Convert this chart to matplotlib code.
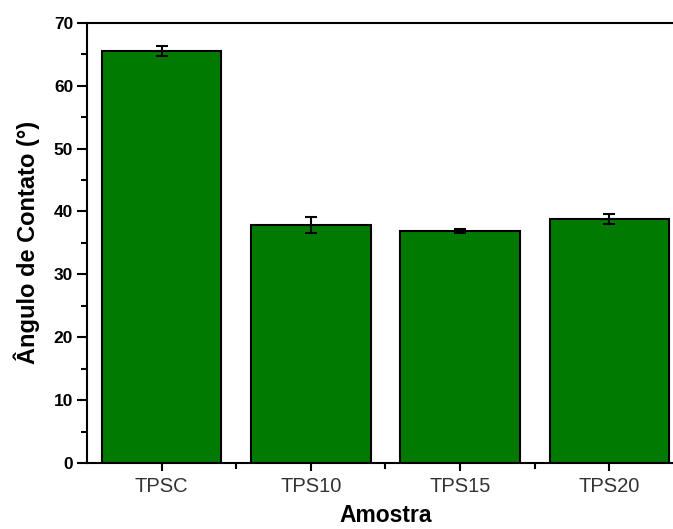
import numpy as np
import matplotlib
matplotlib.use("Agg")
from matplotlib import pyplot as plt
from matplotlib.ticker import MultipleLocator, FixedLocator

# Contact angle per sample
amostras = ["TPSC", "TPS10", "TPS15", "TPS20"]
angulo = [65.5, 37.9, 36.9, 38.8]
erro = [0.85, 1.3, 0.3, 0.85]

plt.rcParams["font.family"] = ["Liberation Sans", "DejaVu Sans"]

fig = plt.figure(figsize=(6.73, 5.29), dpi=100)
# axes run past the right edge, like the cropped original
ax = fig.add_axes([0.1293, 0.1248, 0.887, 0.832])

x = np.arange(len(amostras))
ax.bar(x, angulo, width=0.8, color="#007a00", edgecolor="black", linewidth=1.5,
       yerr=erro, capsize=4, error_kw=dict(elinewidth=1.5, capthick=1.5, ecolor="black"))

ax.set_xlim(-0.5, 3.5)
ax.set_ylim(0, 70)
ax.yaxis.set_major_locator(MultipleLocator(10))
ax.yaxis.set_minor_locator(MultipleLocator(5))
ax.set_xticks(x)
ax.set_xticklabels(amostras, fontsize=14.5, color="#333333")
ax.xaxis.set_minor_locator(FixedLocator(x[:-1] + 0.5))

for lab in ax.get_yticklabels():
    lab.set_fontweight("bold")
    lab.set_fontsize(12.5)

ax.tick_params(axis="y", which="major", direction="out", length=7, width=1.5, pad=3)
ax.tick_params(axis="y", which="minor", direction="out", length=4, width=1.5)
ax.tick_params(axis="x", which="major", direction="out", length=6, width=1.5, pad=4)
ax.tick_params(axis="x", which="minor", direction="out", length=4, width=1.5)

for s in ax.spines.values():
    s.set_linewidth(1.5)

ax.set_xlabel("Amostra", fontsize=16.5, fontweight="bold", labelpad=6)
ax.set_ylabel("Ângulo de Contato (°)", fontsize=17, fontweight="bold", labelpad=10)

fig.savefig("out.png", dpi=100)
